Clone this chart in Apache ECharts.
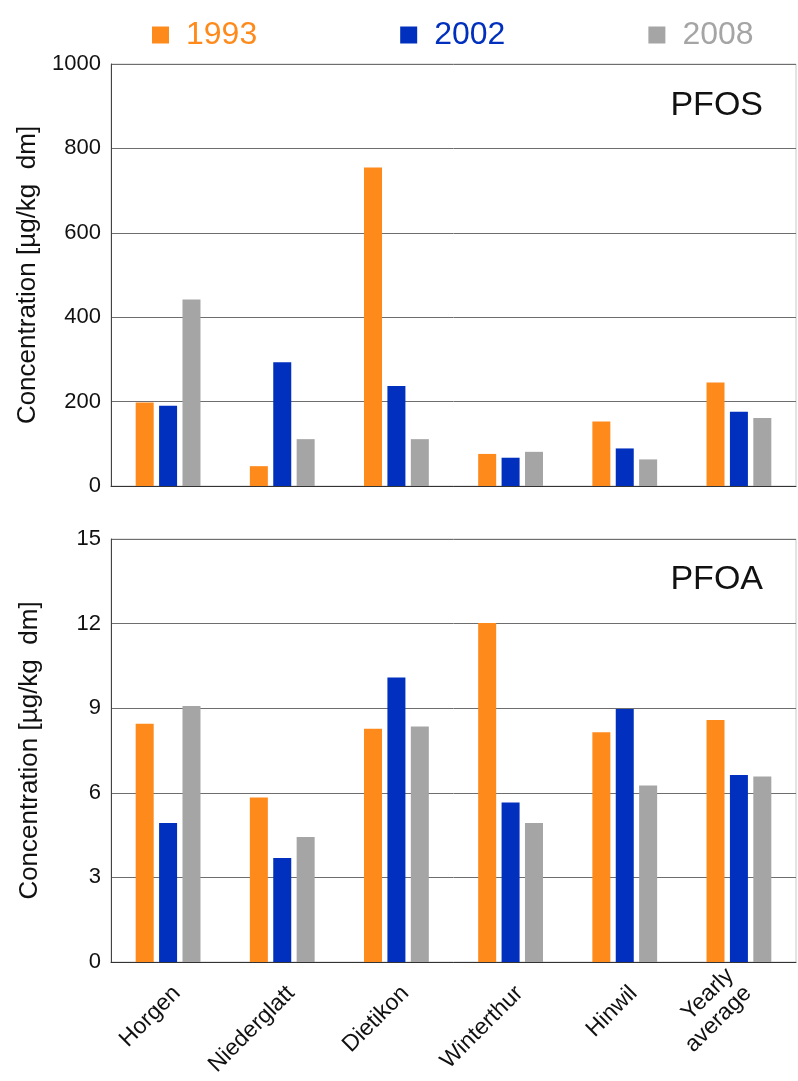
<!DOCTYPE html>
<html>
<head>
<meta charset="utf-8">
<title>PFOS and PFOA concentrations</title>
<script src="https://cdn.jsdelivr.net/npm/echarts@6/dist/echarts.min.js"></script>
<style>
  html, body { margin: 0; padding: 0; background: #ffffff; }
  #chart { width: 798px; height: 1081px; }
</style>
</head>
<body>
<div id="chart"></div>
<script>
// Sampling sites and the overall average
const sites = ['Horgen', 'Niederglatt', 'Dietikon', 'Winterthur', 'Hinwil', 'Yearly\naverage'];
const years = ['1993', '2002', '2008'];
const yearColors = ['#ff8a1c', '#0030bd', '#a5a5a5'];

// PFOS concentration, µg/kg dm
const pfos1993 = [198, 47, 755, 76, 153, 245];
const pfos2002 = [190, 293, 237, 67, 89, 176];
const pfos2008 = [442, 111, 111, 81, 63, 161];

// PFOA concentration, µg/kg dm
const pfoa1993 = [8.45, 5.83, 8.27, 12.02, 8.15, 8.58];
const pfoa2002 = [4.93, 3.69, 10.09, 5.66, 8.97, 6.63];
const pfoa2008 = [9.08, 4.43, 8.35, 4.93, 6.26, 6.58];

// Axis ranges
const pfosTicks = { min: 0, max: 1000, interval: 200 };
const pfoaTicks = { min: 0, max: 15, interval: 3 };

const FONT = 'Liberation Sans, Arial, Helvetica, sans-serif';
const axisName = 'Concentration [µg/kg  dm]';

const chart = echarts.init(document.getElementById('chart'), null, { renderer: 'canvas' });

function yAxisFor(gridIndex, ticks) {
  return {
    type: 'value',
    gridIndex: gridIndex,
    min: ticks.min,
    max: ticks.max,
    interval: ticks.interval,
    name: axisName,
    nameLocation: 'middle',
    nameGap: 68,
    nameTextStyle: { fontFamily: FONT, fontSize: 26, color: '#111' },
    axisLine: { show: true, lineStyle: { color: '#444', width: 1 } },
    axisTick: { show: false },
    axisLabel: {
      fontFamily: FONT, fontSize: 22, color: '#111', margin: 10,
      formatter: (v) => String(v)
    },
    splitLine: { show: true, lineStyle: { color: '#6e6e6e', width: 1 } }
  };
}

// Two-line category names are centred on their tick, single-line ones hang below it
const siteAxisData = sites.map((s) =>
  s.indexOf('\n') >= 0 ? { value: s, textStyle: { verticalAlign: 'middle' } } : s
);

function xAxisFor(gridIndex, showLabels) {
  return {
    type: 'category',
    gridIndex: gridIndex,
    data: siteAxisData,
    axisLine: { show: true, lineStyle: { color: '#333', width: 1 } },
    axisTick: { show: false },
    axisLabel: {
      show: showLabels,
      interval: 0,
      rotate: 45,
      margin: 19,
      verticalAlign: 'top',
      fontFamily: FONT,
      fontSize: 23,
      color: '#111',
      lineHeight: 25
    },
    splitLine: { show: false }
  };
}

function barSeries(name, idx, xi, yi, values) {
  return {
    name: name,
    type: 'bar',
    xAxisIndex: xi,
    yAxisIndex: yi,
    data: values,
    barWidth: 18,
    barGap: '30%',
    itemStyle: { color: yearColors[idx] },
    emphasis: { disabled: true }
  };
}

const option = {
  animation: false,
  backgroundColor: '#ffffff',
  textStyle: { fontFamily: FONT },
  legend: {
    left: 147,
    top: 14,
    itemWidth: 17,
    itemHeight: 17,
    itemGap: 143,
    icon: 'rect',
    selectedMode: false,
    data: years.map((y, i) => ({
      name: y,
      textStyle: { color: yearColors[i] }
    })),
    textStyle: { fontFamily: FONT, fontSize: 32, padding: [0, 0, 0, 12] }
  },
  title: [
    {
      text: 'PFOS',
      right: 35,
      top: 89,
      padding: 0,
      textStyle: { fontFamily: FONT, fontSize: 34, fontWeight: 'normal', color: '#111' }
    },
    {
      text: 'PFOA',
      right: 35,
      top: 563,
      padding: 0,
      textStyle: { fontFamily: FONT, fontSize: 34, fontWeight: 'normal', color: '#111' }
    }
  ],
  grid: [
    { left: 111, right: 2, top: 64, height: 422, show: true, borderColor: '#c8c8c8', borderWidth: 1 },
    { left: 111, right: 2, top: 539, height: 423, show: true, borderColor: '#c8c8c8', borderWidth: 1 }
  ],
  xAxis: [xAxisFor(0, false), xAxisFor(1, true)],
  yAxis: [yAxisFor(0, pfosTicks), yAxisFor(1, pfoaTicks)],
  series: [
    barSeries('1993', 0, 0, 0, pfos1993),
    barSeries('2002', 1, 0, 0, pfos2002),
    barSeries('2008', 2, 0, 0, pfos2008),
    barSeries('1993', 0, 1, 1, pfoa1993),
    barSeries('2002', 1, 1, 1, pfoa2002),
    barSeries('2008', 2, 1, 1, pfoa2008)
  ]
};

chart.setOption(option);
</script>
</body>
</html>
